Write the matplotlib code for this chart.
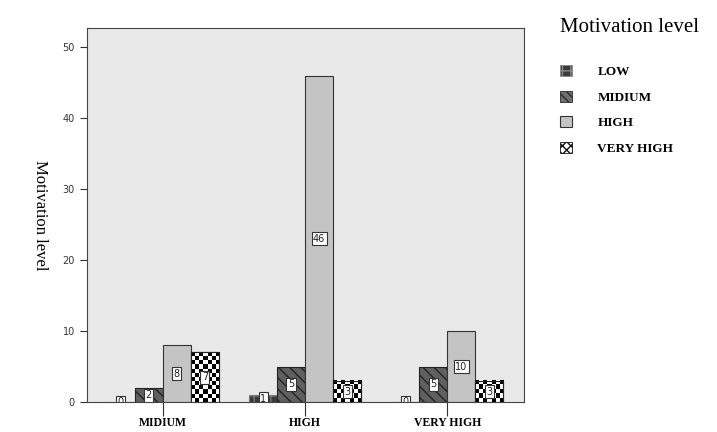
import numpy as np
import matplotlib
matplotlib.use('Agg')
import matplotlib.pyplot as plt
from matplotlib.patches import Patch

# data
groups = ['MIDIUM', 'HIGH', 'VERY HIGH']
levels = ['LOW', 'MIDIUM', 'HIGH', 'VERY HIGH']
low = [0, 1, 0]
midium = [2, 5, 5]
high = [8, 46, 10]
very_high = [7, 3, 3]
yticks = [0, 10, 20, 30, 40, 50]

series = [low, midium, high, very_high]

fig = plt.figure(figsize=(7.17, 4.32), dpi=100)
ax = fig.add_axes([0.121, 0.069, 0.610, 0.866])
ax.set_facecolor('#e9e9e9')

x = np.arange(len(groups))
w = 0.197
offsets = [-1.5 * w, -0.5 * w, 0.5 * w, 1.5 * w]
styles = [
    dict(color='#3a3a3a', hatch='++', edgecolor='#7a7a7a'),
    dict(color='#606060', hatch='\\\\\\', edgecolor='#222222'),
    dict(color='#c4c4c4', hatch=None, edgecolor='#333333'),
    dict(color='white', hatch=None, edgecolor='#222222'),
]

ax.set_xlim(-0.535, 2.54)
ax.set_ylim(0, 52.7)

bars_all = []
for vals, off, st in zip(series, offsets, styles):
    bars = ax.bar(x + off, vals, w, color=st['color'], hatch=st['hatch'],
                  edgecolor=st['edgecolor'], linewidth=0.8, zorder=2)
    bars_all.append(bars)

# checkerboard for VERY HIGH bars
fig.canvas.draw()
for b in bars_all[3]:
    x0, y0 = b.get_x(), b.get_y()
    bw, bh = b.get_width(), b.get_height()
    p0 = ax.transData.transform((x0, y0))
    p1 = ax.transData.transform((x0 + bw, y0 + bh))
    nx = max(1, int(round((p1[0] - p0[0]) / 4)))
    ny = max(1, int(round((p1[1] - p0[1]) / 4)))
    cb = (np.indices((ny, nx)).sum(axis=0) % 2).astype(float)
    ax.imshow(cb, extent=(x0, x0 + bw, y0, y0 + bh), cmap='gray', vmin=0, vmax=1,
              interpolation='nearest', aspect='auto', zorder=2.5)
    ax.add_patch(plt.Rectangle((x0, y0), bw, bh, fill=False,
                               edgecolor='#222222', linewidth=0.8, zorder=3))

# value labels
for vals, off in zip(series, offsets):
    for xi, v in zip(x, vals):
        ax.text(xi + off, v / 2, str(v), ha='center', va='center', fontsize=7,
                color='#222222', zorder=4, clip_on=True,
                bbox=dict(boxstyle='square,pad=0.15', fc='white', ec='#333333', lw=0.8))

ax.set_xticks(x)
ax.set_xticklabels(groups, fontfamily='Liberation Serif', fontweight='bold', fontsize=8.5)
ax.tick_params(axis='x', length=10, width=0.8, color='#333333', pad=1)
ax.set_yticks(yticks)
ax.tick_params(axis='y', length=5, width=0.8, color='#333333', labelsize=7, labelcolor='#333333')
for s in ax.spines.values():
    s.set_color('#444444')
    s.set_linewidth(0.8)

ax.set_ylabel('Motivation level', fontfamily='Liberation Serif', fontsize=12,
              rotation=270, va='center')
ax.yaxis.set_label_coords(-0.108, 0.5)

handles = []
handles.append(Patch(facecolor='#3a3a3a', hatch='++', edgecolor='#8a8a8a', linewidth=0.6))
handles.append(Patch(facecolor='#707070', hatch='\\\\\\\\', edgecolor='#2a2a2a', linewidth=0.6))
handles.append(Patch(facecolor='#c4c4c4', edgecolor='#333333', linewidth=0.8))
handles.append(Patch(facecolor='white', hatch='xxxx', edgecolor='#111111', linewidth=0.6))
leg = fig.legend(handles, levels, loc='upper left', bbox_to_anchor=(0.765, 0.985),
                 frameon=False, title='Motivation level', handlelength=0.9,
                 handleheight=0.9, labelspacing=0.95, handletextpad=1.9,
                 prop=dict(family='Liberation Serif', weight='bold', size=9.5),
                 title_fontproperties=dict(family='Liberation Serif', size=15))
leg._legend_box.align = 'left'
leg._legend_box.sep = 20

fig.savefig('out.png', dpi=100)
